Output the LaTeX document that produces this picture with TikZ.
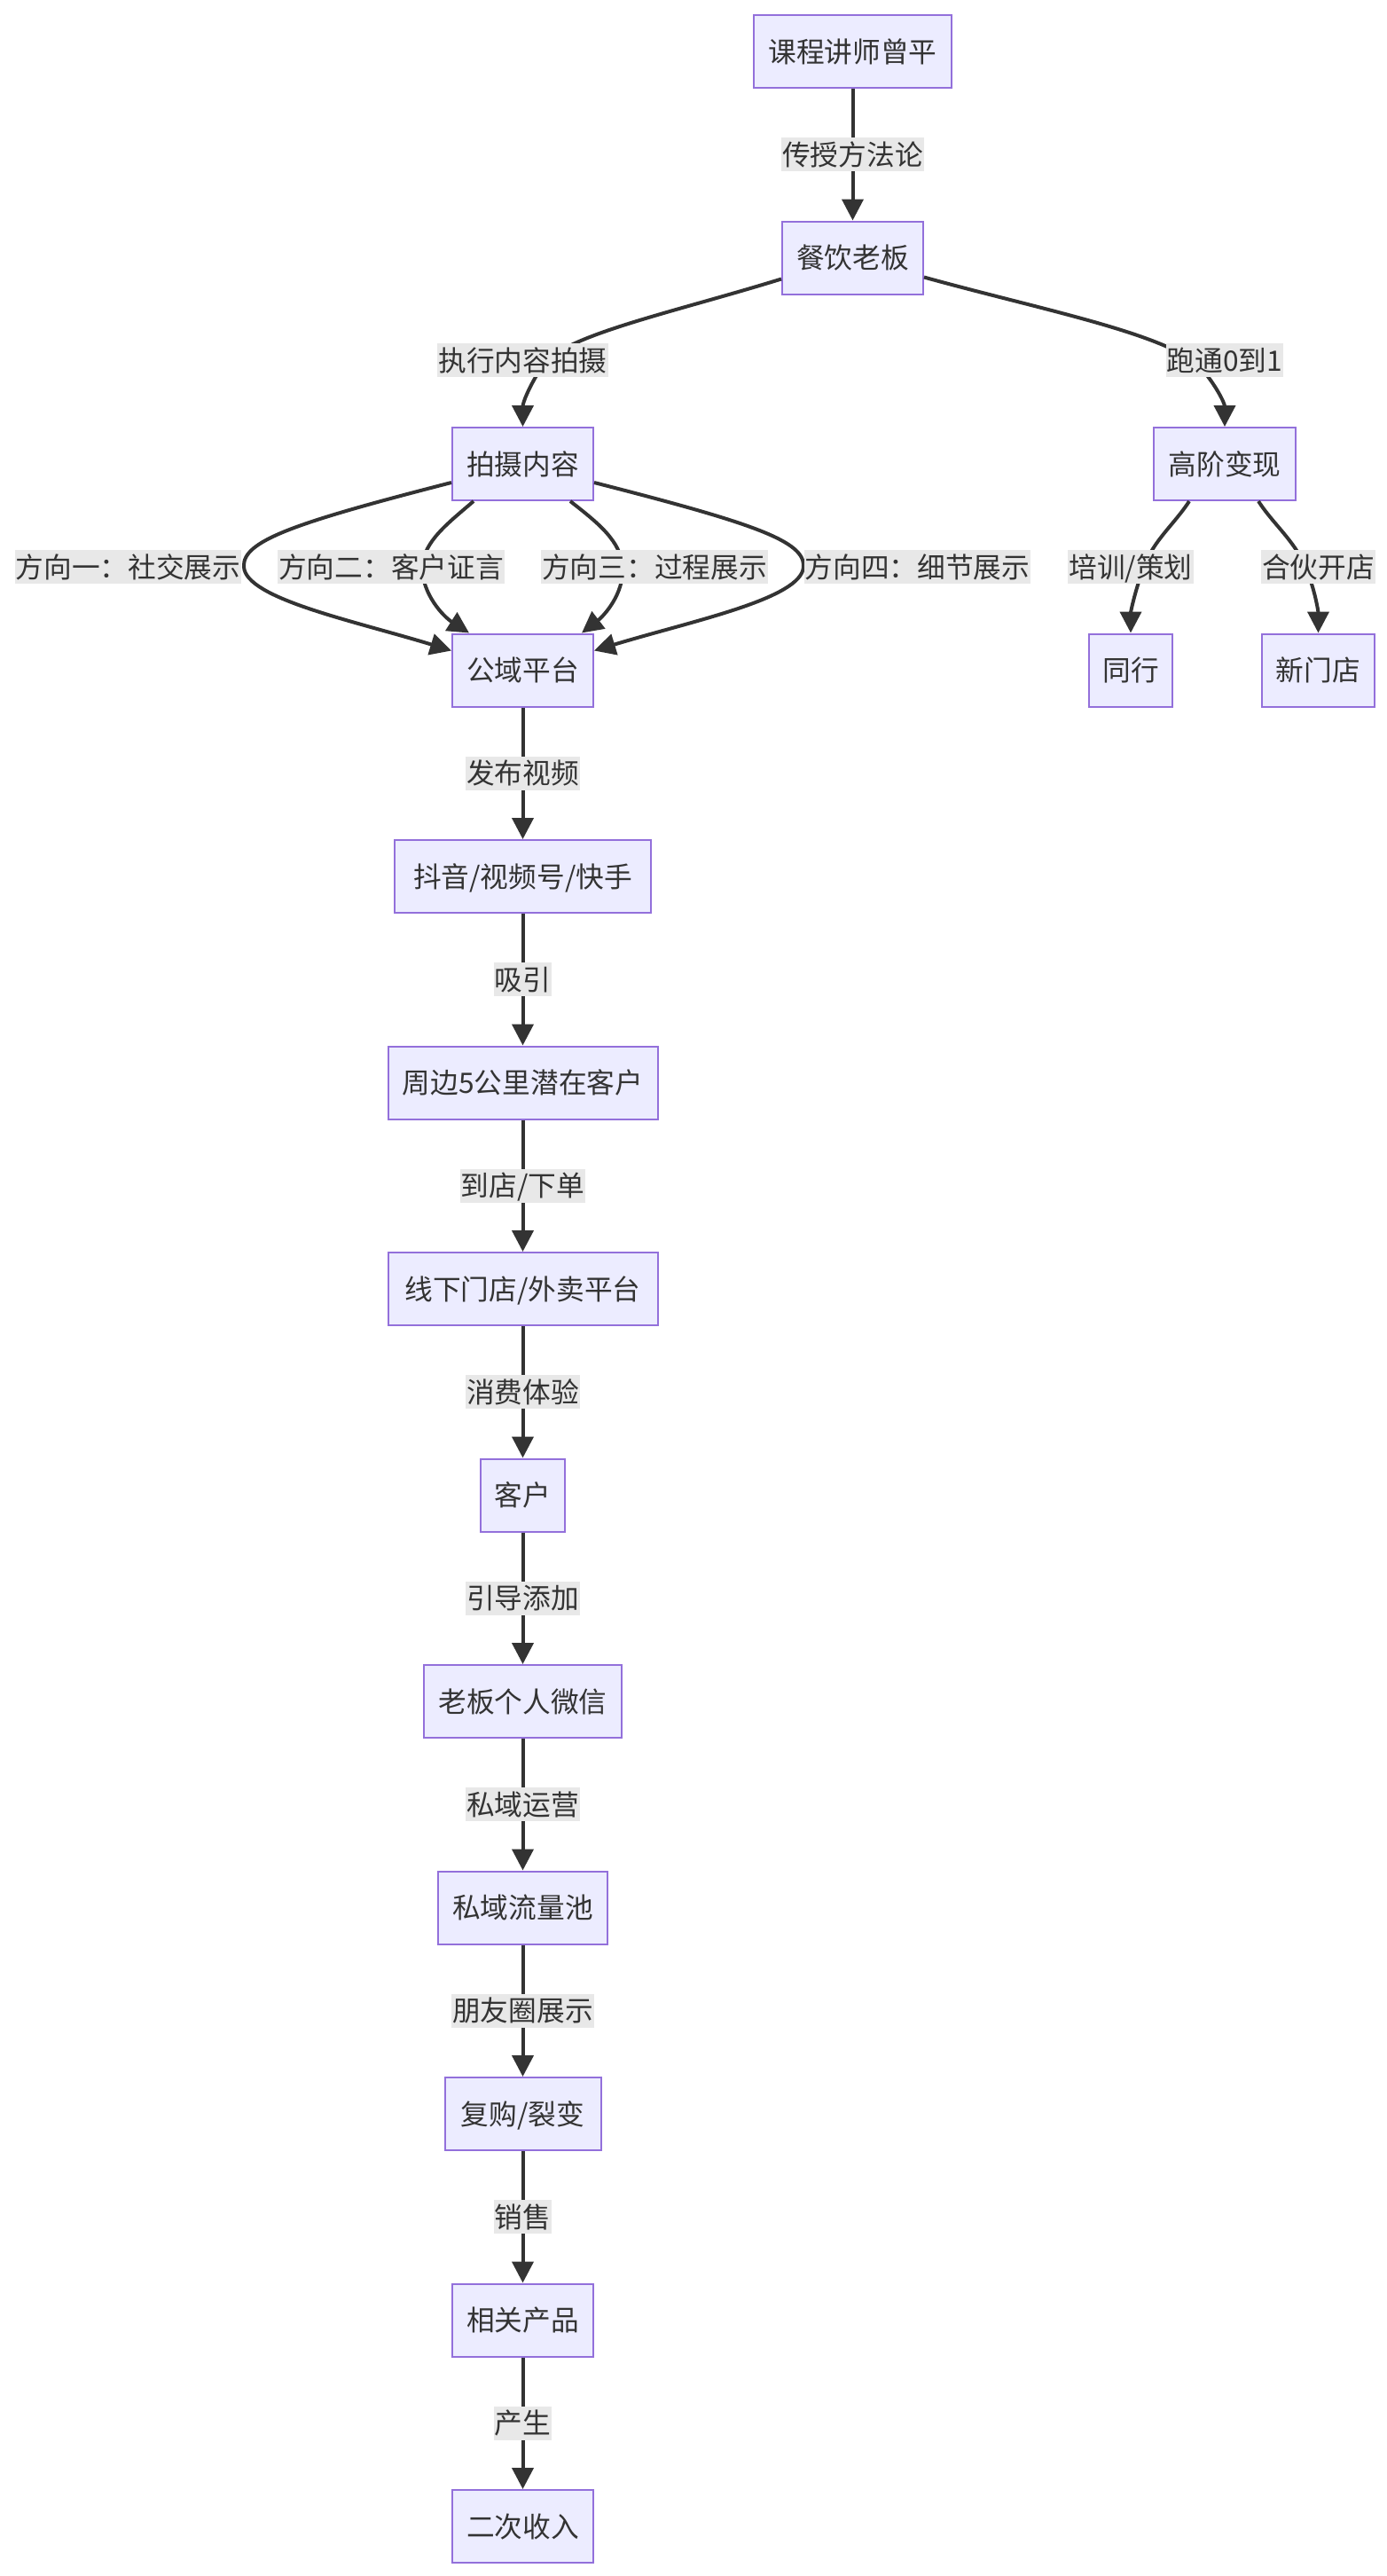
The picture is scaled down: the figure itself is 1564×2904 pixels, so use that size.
\documentclass[tikz,border=0pt]{standalone}
\usepackage{fontspec}
\setmainfont{Noto Sans CJK SC}
\usetikzlibrary{arrows.meta}
\definecolor{nodefill}{HTML}{ECECFF}
\definecolor{nodeline}{HTML}{9370DB}
\definecolor{ink}{HTML}{333333}
\definecolor{lblbg}{HTML}{E8E8E8}
\newcommand\dfont{\fontsize{15.85pt}{19pt}\selectfont}
\begin{document}
\begin{tikzpicture}[x=0.5pt,y=-0.5pt,
  box/.style={draw=nodeline, fill=nodefill, line width=1pt, text=ink, font=\dfont,
    minimum height=41pt, inner sep=0pt, text height=13.2pt, text depth=1.1pt},
  lbl/.style={fill=lblbg, text=ink, font=\dfont, minimum height=19pt,
    inner xsep=0.5pt, inner ysep=0pt, text height=13.2pt, text depth=1.1pt},
  edge/.style={draw=ink, line width=2pt, -{Triangle[length=12pt,width=12pt]}},
]
\useasboundingbox[fill=white] (0,0) rectangle (1564,2904);

% nodes
\node[box,minimum width=111.5pt] (A) at (961.5,58) {课程讲师曾平};
\node[box,minimum width=79.5pt] (B) at (961.5,290.5) {餐饮老板};
\node[box,minimum width=79.5pt] (C) at (589.5,523) {拍摄内容};
\node[box,minimum width=80pt] (D) at (1381,523) {高阶变现};
\node[box,minimum width=79.5pt] (E) at (589.5,755.5) {公域平台};
\node[box,minimum width=47pt] (F) at (1275,755.5) {同行};
\node[box,minimum width=63.5pt] (G) at (1486.5,755.5) {新门店};
\node[box,minimum width=144.5pt] (H) at (589.5,988) {抖音/视频号/快手};
\node[box,minimum width=152pt] (I) at (589.5,1220.5) {周边5公里潜在客户};
\node[box,minimum width=152pt] (J) at (589.5,1453) {线下门店/外卖平台};
\node[box,minimum width=47.5pt] (K) at (589.5,1685.5) {客户};
\node[box,minimum width=111.5pt] (L) at (589.5,1918) {老板个人微信};
\node[box,minimum width=95.5pt] (M) at (589.5,2150.5) {私域流量池};
\node[box,minimum width=88pt] (N) at (589.5,2383) {复购/裂变};
\node[box,minimum width=79.5pt] (O) at (589.5,2615.5) {相关产品};
\node[box,minimum width=79.5pt] (P) at (589.5,2848) {二次收入};

% straight edges
\draw[edge] (A) -- node[lbl] (lab) {传授方法论} (B);
\draw[edge] (E) -- node[lbl] (leh) {发布视频} (H);
\draw[edge] (H) -- node[lbl] (lhi) {吸引} (I);
\draw[edge] (I) -- node[lbl] (lij) {到店/下单} (J);
\draw[edge] (J) -- node[lbl] (ljk) {消费体验} (K);
\draw[edge] (K) -- node[lbl] (lkl) {引导添加} (L);
\draw[edge] (L) -- node[lbl] (llm) {私域运营} (M);
\draw[edge] (M) -- node[lbl] (lmn) {朋友圈展示} (N);
\draw[edge] (N) -- node[lbl] (lno) {销售} (O);
\draw[edge] (O) -- node[lbl] (lop) {产生} (P);

% curved edges
\draw[edge] ([yshift=-12pt]B.west) .. controls (760,352) and (635,378) .. (612,412)
  .. controls (595,438) and (589.5,455) .. (C.north);
\draw[edge] ([yshift=-11pt]B.east) .. controls (1170,348) and (1310,375) .. (1352,412)
  .. controls (1372,435) and (1381,455) .. (D.north);

\draw[edge] ([yshift=-10.5pt]C.west) .. controls (330,590) and (273,610) .. (275,639)
  .. controls (277,675) and (400,700) .. ([yshift=11pt]E.west);
\draw[edge] ([xshift=12.5pt]C.south west) .. controls (505,590) and (478,610) .. (476,639)
  .. controls (476,670) and (500,695) .. ([xshift=10pt]E.north west);
\draw[edge] ([xshift=-13.5pt]C.south east) .. controls (675,590) and (700,610) .. (702,639)
  .. controls (704,670) and (680,695) .. ([xshift=-7pt]E.north east);
\draw[edge] ([yshift=-10.5pt]C.east) .. controls (850,590) and (908,610) .. (906,639)
  .. controls (904,675) and (780,700) .. ([yshift=11pt]E.east);

\draw[edge] ([xshift=20.5pt]D.south west) .. controls (1325,590) and (1300,610) .. (1290,639)
  .. controls (1280,665) and (1275,690) .. (F.north);
\draw[edge] ([xshift=-21.5pt]D.south east) .. controls (1435,590) and (1460,610) .. (1472,639)
  .. controls (1483,665) and (1486.5,690) .. (G.north);

% labels of curved edges
\node[lbl] (lbc) at (589.5,406) {执行内容拍摄};
\node[lbl] (lbd) at (1381,406) {跑通0到1};
\node[lbl] (lce1) at (144.5,639) {方向一：社交展示};
\node[lbl] (lce2) at (441,639) {方向二：客户证言};
\node[lbl] (lce3) at (738,639) {方向三：过程展示};
\node[lbl] (lce4) at (1034.5,639) {方向四：细节展示};
\node[lbl] (ldf) at (1275,639) {培训/策划};
\node[lbl] (ldg) at (1486.5,639) {合伙开店};
\end{tikzpicture}
\end{document}
